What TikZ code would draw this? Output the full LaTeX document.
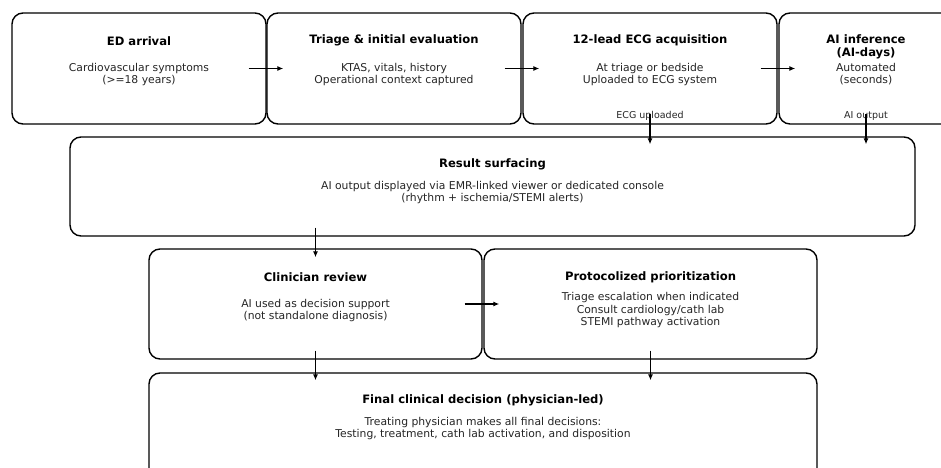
\documentclass[tikz,border=0pt]{standalone}
\usepackage{fontspec}
\setmainfont{DejaVu Sans}
\usetikzlibrary{arrows.meta,calc}
\tikzset{
  box/.style={draw=black,line width=1.4pt,rounded corners=11pt,inner sep=0pt,fill=white},
  ttl/.style={font=\bfseries\fontsize{11.6}{12.5}\selectfont,align=center,inner sep=0pt,text=black},
  bdy/.style={font=\fontsize{10.8}{12.3}\selectfont,align=center,inner sep=0pt,text=black!85},
  lbl/.style={font=\fontsize{9.5}{11}\selectfont,align=center,inner sep=0pt,text=black!85},
  arr/.style={-{Latex[length=6pt,width=5pt]},line width=1.1pt,draw=black}
}
\begin{document}
\begin{tikzpicture}[x=1pt,y=1pt]
\clip (0,0) rectangle (941,467);
\fill[white] (0,0) rectangle (941,467);
% row 1
\node[box,minimum width=254pt,minimum height=111pt] (b1) at (139,398.5) {};
\node[box,minimum width=254pt,minimum height=111pt] (b2) at (394,398.5) {};
\node[box,minimum width=254pt,minimum height=111pt] (b3) at (650,398.5) {};
\node[box,minimum width=174pt,minimum height=111pt] (b4) at (866,398.5) {};
\node[ttl] (t1) at ([yshift=-28.5pt]b1.north) {ED arrival};
\node[bdy] (d1) at ([yshift=-62pt]b1.north) {Cardiovascular symptoms\\(>=18 years)};
\node[ttl] (t2) at ([yshift=-28.5pt]b2.north) {Triage \& initial evaluation};
\node[bdy] (d2) at ([yshift=-62pt]b2.north) {KTAS, vitals, history\\Operational context captured};
\node[ttl] (t3) at ([yshift=-28.5pt]b3.north) {12-lead ECG acquisition};
\node[bdy] (d3) at ([yshift=-62pt]b3.north) {At triage or bedside\\Uploaded to ECG system};
\node[ttl] (t4) at ([yshift=-34.5pt]b4.north) {AI inference\\(AI-days)};
\node[bdy] (d4) at ([yshift=-62pt]b4.north) {Automated\\(seconds)};
\node[lbl] (l3) at ([yshift=8.5pt]b3.south) {ECG uploaded};
\node[lbl] (l4) at ([yshift=8.5pt]b4.south) {AI output};
% result
\node[box,minimum width=845pt,minimum height=99pt] (res) at (492.5,280.5) {};
\node[ttl] (tr) at ([yshift=-28pt]res.north) {Result surfacing};
\node[bdy] (dr) at ([yshift=-56pt]res.north) {AI output displayed via EMR-linked viewer or dedicated console\\(rhythm + ischemia/STEMI alerts)};
% row 3
\node[box,minimum width=333pt,minimum height=110pt] (cr) at (315.5,163) {};
\node[box,minimum width=333pt,minimum height=110pt] (pp) at (650.5,163) {};
\node[ttl] (tc) at ([yshift=-29pt]cr.north) {Clinician review};
\node[bdy] (dc) at ([yshift=-62pt]cr.north) {AI used as decision support\\(not standalone diagnosis)};
\node[ttl] (tp) at ([yshift=-29pt]pp.north) {Protocolized prioritization};
\node[bdy] (dp) at ([yshift=-62pt]pp.north) {Triage escalation when indicated\\Consult cardiology/cath lab\\STEMI pathway activation};
% final
\node[box,minimum width=668pt,minimum height=110pt] (fin) at (483,39) {};
\node[ttl] (tf) at ([yshift=-28pt]fin.north) {Final clinical decision (physician-led)};
\node[bdy] (df) at ([yshift=-56pt]fin.north) {Treating physician makes all final decisions:\\Testing, treatment, cath lab activation, and disposition};
% connectors
\draw[arr] ([xshift=-18pt]b1.east) -- ([xshift=17pt]b2.west);
\draw[arr] ([xshift=-17pt]b2.east) -- ([xshift=17pt]b3.west);
\draw[arr] ([xshift=-17pt]b3.east) -- ([xshift=17pt]b4.west);
\coordinate (r3) at (b3.south |- res.north);
\coordinate (r4) at (b4.south |- res.north);
\draw[arr] ([yshift=11pt]b3.south) -- ([yshift=-8pt]r3);
\draw[arr] ([yshift=11pt]b4.south) -- ([yshift=-8pt]r4);
\coordinate (rc) at (cr.north |- res.south);
\draw[arr] ([yshift=9pt]rc) -- ([yshift=-9pt]cr.north);
\draw[arr] ([xshift=-18pt]cr.east) -- ([xshift=16pt]pp.west);
\coordinate (fc) at (cr.south |- fin.north);
\coordinate (fp) at (pp.south |- fin.north);
\draw[arr] ([yshift=9pt]cr.south) -- ([yshift=-8pt]fc);
\draw[arr] ([yshift=9pt]pp.south) -- ([yshift=-8pt]fp);
\end{tikzpicture}
\end{document}
